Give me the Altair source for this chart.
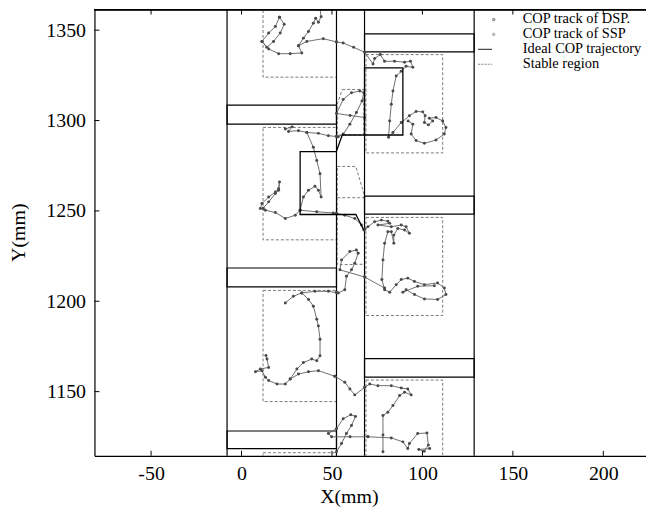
import altair as alt
import pandas as pd

W, H = 555, 449
FONT = "Liberation Serif"

X_DOMAIN = [-81.3, 223.6]
Y_DOMAIN = [1114.5, 1361.4]
X_TICKS = [-50, 0, 50, 100, 150, 200]
Y_TICKS = [1150, 1200, 1250, 1300, 1350]

# foot outlines
FOOT_EDGES_X = [-8.0, 52.5, 68.0, 128.6]
LEFT_FOOT_X = (-8.0, 52.5)
RIGHT_FOOT_X = (68.0, 128.6)
LEFT_BARS_Y = [(1298.0, 1308.5), (1208.0, 1218.4), (1118.5, 1128.2)]
RIGHT_BARS_Y = [(1338.0, 1348.0), (1248.2, 1258.2), (1158.0, 1168.3)]

# stable regions (SSP rectangles)
LEFT_STABLE_X = (11.9, 52.5)
LEFT_STABLE_Y = [(1324.0, 1386.0), (1234.0, 1296.2), (1144.5, 1206.0), (1054.0, 1116.2)]
RIGHT_STABLE_X = (68.8, 111.2)
RIGHT_STABLE_Y = [(1282.1, 1336.5), (1192.1, 1246.4), (1102.0, 1156.4)]

# stable regions (DSP polygons)
DSP_REGIONS = [
    [(55.7, 1317.2), (67.6, 1317.2), (67.6, 1292.0), (52.9, 1292.0), (52.9, 1309.0), (55.7, 1317.2)],
    [(52.9, 1274.6), (63.2, 1274.6), (67.6, 1259.5), (67.6, 1257.3), (52.9, 1257.3), (52.9, 1274.6)],
    [(52.9, 1257.3), (52.9, 1220.2), (67.6, 1220.5)],
]

# ideal COP trajectory
IDEAL = [(68.0, 1292.0), (68.0, 1329.1), (89.2, 1329.1), (89.2, 1292.0), (55.7, 1292.0),
         (52.4, 1282.8), (32.4, 1282.8), (32.4, 1248.0), (63.2, 1248.0), (67.6, 1239.4)]

# COP track segments (SSP)
SSP_SEGMENTS = [
    [(21.0, 1357.2), (23.6, 1353.3), (21.4, 1348.4), (17.7, 1343.8), (14.0, 1340.5), (11.3, 1343.8),
     (15.0, 1348.4), (18.7, 1352.0), (21.0, 1357.2)],
    [(11.3, 1343.8), (15.0, 1339.6), (20.5, 1337.0), (26.9, 1337.0), (33.3, 1337.4), (31.5, 1341.4),
     (34.2, 1345.6), (37.0, 1349.3), (39.7, 1353.9), (41.0, 1356.6), (42.5, 1354.4), (44.0, 1357.5),
     (43.4, 1361.7)],
    [(31.5, 1341.4), (36.1, 1343.8), (45.2, 1345.3), (52.5, 1343.5)],
    [(68.1, 1337.8), (72.7, 1331.3), (73.6, 1334.3), (76.7, 1336.5), (79.1, 1332.8), (84.6, 1332.8),
     (90.1, 1332.3), (93.4, 1332.8), (94.7, 1329.5), (91.0, 1330.0), (88.3, 1327.3), (85.5, 1324.6),
     (83.7, 1316.3), (82.8, 1309.0), (81.9, 1299.8), (81.3, 1290.7), (83.7, 1293.4), (88.3, 1298.9),
     (92.8, 1302.6), (96.5, 1305.0), (100.2, 1304.8), (101.5, 1302.6), (101.1, 1298.9), (103.3, 1297.6),
     (105.7, 1299.8), (103.8, 1301.3), (107.5, 1301.7), (111.2, 1299.8), (113.0, 1296.2), (112.1, 1292.5),
     (107.5, 1289.2), (101.1, 1287.4), (96.5, 1288.9), (93.8, 1292.5), (94.7, 1298.0), (92.1, 1299.8)],
    [(24.2, 1295.3), (28.0, 1296.5), (26.0, 1294.0), (31.5, 1294.4), (36.1, 1293.4), (42.5, 1292.9),
     (48.0, 1291.6), (52.5, 1291.2)],
    [(36.1, 1293.4), (39.7, 1285.2), (41.6, 1277.9), (43.4, 1270.5), (44.0, 1257.7), (42.5, 1261.4),
     (40.6, 1263.6), (37.0, 1261.4), (34.2, 1257.7), (32.4, 1250.4), (29.7, 1247.6), (24.2, 1245.8),
     (18.7, 1249.1), (13.2, 1250.4), (10.4, 1251.3), (11.3, 1254.1), (15.0, 1257.7), (18.7, 1260.5),
     (20.5, 1262.3), (21.0, 1266.0), (20.5, 1261.4), (18.7, 1259.6), (15.0, 1255.0), (12.0, 1251.5)],
    [(32.4, 1250.4), (41.6, 1249.5), (50.7, 1248.9), (52.5, 1248.6)],
    [(68.1, 1239.8), (69.9, 1241.2), (73.6, 1244.0), (77.3, 1244.9), (80.9, 1244.3), (81.9, 1243.1),
     (75.4, 1242.2), (82.8, 1241.2), (88.3, 1242.2), (91.0, 1241.2), (92.8, 1237.6), (90.1, 1239.4),
     (86.4, 1240.3), (84.2, 1236.6), (84.2, 1232.1), (82.8, 1238.5), (80.9, 1238.5), (79.1, 1232.1),
     (78.2, 1222.9), (77.6, 1212.0), (79.1, 1206.4), (81.9, 1205.0), (85.5, 1209.2), (88.3, 1212.0),
     (91.9, 1212.8), (95.6, 1211.0), (101.1, 1209.2), (108.4, 1210.1), (112.1, 1207.3), (113.0, 1203.7),
     (108.4, 1201.0), (101.1, 1201.3), (95.6, 1203.7), (91.0, 1206.4), (89.2, 1205.0), (97.4, 1208.3),
     (106.6, 1208.6)],
    [(79.1, 1207.3), (68.1, 1213.4)],
    [(52.5, 1204.8), (48.0, 1205.5), (40.6, 1205.5), (33.3, 1204.6), (28.7, 1202.8), (24.2, 1199.1)],
    [(33.3, 1204.6), (37.0, 1201.0), (39.7, 1197.3), (41.6, 1190.0), (42.5, 1186.3), (43.4, 1179.0),
     (43.4, 1169.8), (41.6, 1167.1), (38.8, 1168.0), (34.2, 1166.1), (30.6, 1162.5), (26.9, 1157.0),
     (24.2, 1154.2), (19.6, 1154.2), (15.0, 1156.1), (13.2, 1157.9), (11.3, 1161.6), (7.7, 1161.0),
     (10.4, 1162.5), (15.0, 1163.4), (14.1, 1168.0), (13.5, 1170.0)],
    [(26.9, 1157.0), (31.5, 1159.7), (37.0, 1161.0), (42.5, 1161.6), (51.6, 1158.5)],
    [(68.1, 1152.4), (70.9, 1154.2), (75.4, 1153.3), (82.8, 1153.3), (88.3, 1152.0), (91.9, 1151.5),
     (93.8, 1148.2), (90.1, 1149.7), (87.4, 1147.8), (83.7, 1142.3), (80.9, 1138.6), (78.2, 1136.8),
     (78.2, 1126.0), (78.2, 1116.7)],
    [(69.9, 1125.0), (82.8, 1124.4), (89.2, 1122.2), (91.9, 1118.5), (92.8, 1121.3), (97.4, 1126.8),
     (102.5, 1127.1), (103.3, 1120.4), (101.0, 1117.0), (98.0, 1118.0), (104.0, 1118.5)],
]

# COP track segments (DSP)
DSP_SEGMENTS = [
    [(52.5, 1343.5), (56.2, 1342.9), (62.0, 1340.5), (68.1, 1337.8)],
    [(52.5, 1291.2), (53.5, 1291.0), (56.2, 1292.5), (59.9, 1298.0), (63.5, 1304.4), (66.6, 1310.8),
     (67.6, 1315.4), (65.4, 1316.3), (60.8, 1315.4), (56.2, 1311.7), (52.5, 1303.9), (60.0, 1302.8),
     (68.1, 1301.7)],
    [(52.5, 1248.6), (57.1, 1247.6), (62.6, 1245.8), (66.3, 1242.2), (67.6, 1239.4), (68.1, 1239.8)],
    [(68.1, 1213.4), (54.4, 1217.4), (55.3, 1222.9), (59.9, 1227.5), (63.5, 1228.4), (64.5, 1226.6),
     (62.6, 1221.1), (60.8, 1217.4), (58.0, 1213.8), (57.1, 1206.4), (53.5, 1204.6), (52.5, 1204.8)],
    [(51.6, 1158.5), (57.1, 1155.2), (59.9, 1151.5), (62.6, 1148.2), (68.1, 1152.4)],
    [(52.5, 1116.7), (55.3, 1121.3), (58.0, 1126.8), (60.8, 1131.3), (63.0, 1136.3), (60.4, 1137.2),
     (56.2, 1135.0), (52.5, 1129.5), (48.0, 1126.8), (49.8, 1125.0), (60.0, 1125.0), (69.9, 1125.0)],
]

LEGEND_LABELS = ["COP track of DSP.", "COP track of SSP", "Ideal COP trajectory", "Stable region"]

# ---------------- build tables ----------------
def seg_table(segments, kind):
    rows = []
    for s, seg in enumerate(segments):
        for i, (x, y) in enumerate(seg):
            rows.append({"seg": f"{kind}{s}", "i": i, "x": x, "y": y, "kind": kind})
    return pd.DataFrame(rows)

track_df = pd.concat([seg_table(SSP_SEGMENTS, "SSP"), seg_table(DSP_SEGMENTS, "DSP")], ignore_index=True)
dsp_poly_df = seg_table(DSP_REGIONS, "R")
ideal_df = pd.DataFrame({"i": range(len(IDEAL)), "x": [p[0] for p in IDEAL], "y": [p[1] for p in IDEAL]})

bars_df = pd.DataFrame(
    [{"x1": LEFT_FOOT_X[0], "x2": LEFT_FOOT_X[1], "y1": a, "y2": b} for a, b in LEFT_BARS_Y]
    + [{"x1": RIGHT_FOOT_X[0], "x2": RIGHT_FOOT_X[1], "y1": a, "y2": b} for a, b in RIGHT_BARS_Y]
)
stable_df = pd.DataFrame(
    [{"x1": LEFT_STABLE_X[0], "x2": LEFT_STABLE_X[1], "y1": a, "y2": b} for a, b in LEFT_STABLE_Y]
    + [{"x1": RIGHT_STABLE_X[0], "x2": RIGHT_STABLE_X[1], "y1": a, "y2": b} for a, b in RIGHT_STABLE_Y]
)
edges_df = pd.DataFrame({"x": FOOT_EDGES_X})
xticks_df = pd.DataFrame({"v": X_TICKS})
yticks_df = pd.DataFrame({"v": Y_TICKS})

xs = alt.Scale(domain=X_DOMAIN, nice=False, zero=False)
ys = alt.Scale(domain=Y_DOMAIN, nice=False, zero=False)

x_axis = alt.Axis(values=X_TICKS, tickSize=0, grid=False, labelFont=FONT, labelFontSize=20,
                  labelColor="black", labelPadding=8, labelExpr="'' + datum.value",
                  domainColor="black", domainWidth=1.2, title="X(mm)", titleFont=FONT,
                  titleFontSize=20, titleFontWeight="normal", titleColor="black",
                  titleX=256, titleY=47, titleBaseline="alphabetic", titleAlign="center")
y_axis = alt.Axis(values=Y_TICKS, tickSize=0, grid=False, labelFont=FONT, labelFontSize=20,
                  labelColor="black", labelPadding=9, labelExpr="'' + datum.value",
                  domainColor="black", domainWidth=1.2,
                  title="Y(mm)", titleFont=FONT, titleFontSize=20, titleFontWeight="normal",
                  titleColor="black", titleX=-76, titleY=224, titleAngle=270,
                  titleAlign="center", titleBaseline="middle")

edges = alt.Chart(edges_df).mark_rule(color="black", strokeWidth=1.2).encode(
    x=alt.X("x:Q", scale=xs, axis=x_axis)
)

bars = alt.Chart(bars_df).mark_rect(fillOpacity=0, stroke="black", strokeWidth=1.2, clip=True).encode(
    x=alt.X("x1:Q", scale=xs), x2="x2:Q",
    y=alt.Y("y1:Q", scale=ys, axis=y_axis), y2="y2:Q",
)

stable = alt.Chart(stable_df).mark_rect(fillOpacity=0, stroke="#7a7a7a", strokeWidth=1,
                                        strokeDash=[3, 2], clip=True).encode(
    x=alt.X("x1:Q", scale=xs), x2="x2:Q",
    y=alt.Y("y1:Q", scale=ys), y2="y2:Q",
)

dsp_poly = alt.Chart(dsp_poly_df).mark_line(color="#7a7a7a", strokeWidth=1, strokeDash=[3, 2],
                                            clip=True).encode(
    x=alt.X("x:Q", scale=xs), y=alt.Y("y:Q", scale=ys), detail="seg:N", order="i:Q"
)

track_lines = alt.Chart(track_df).mark_line(color="#5e5e5e", strokeWidth=0.9, clip=True).encode(
    x=alt.X("x:Q", scale=xs), y=alt.Y("y:Q", scale=ys), detail="seg:N", order="i:Q"
)
track_pts = alt.Chart(track_df).mark_point(filled=True, size=9, color="#4a4a4a", opacity=1,
                                           clip=True).encode(
    x=alt.X("x:Q", scale=xs), y=alt.Y("y:Q", scale=ys)
)

ideal = alt.Chart(ideal_df).mark_line(color="black", strokeWidth=1.3, clip=True).encode(
    x=alt.X("x:Q", scale=xs), y=alt.Y("y:Q", scale=ys), order="i:Q"
)

# inward ticks and top frame line
tick_b = alt.Chart(xticks_df).mark_rule(color="black", strokeWidth=1).encode(
    x=alt.X("v:Q", scale=xs), y=alt.value(H), y2=alt.value(H - 5))
tick_t = alt.Chart(xticks_df).mark_rule(color="black", strokeWidth=1).encode(
    x=alt.X("v:Q", scale=xs), y=alt.value(0), y2=alt.value(5))
tick_l = alt.Chart(yticks_df).mark_rule(color="black", strokeWidth=1).encode(
    y=alt.Y("v:Q", scale=ys), x=alt.value(0), x2=alt.value(5))
top_line = alt.Chart(xticks_df).mark_rule(color="black", strokeWidth=1.2).encode(
    x=alt.value(0), x2=alt.value(W), y=alt.value(0))

# legend-only layer (points lie outside the clipped view)
DOT = "M1.1,0A0.15,0.15 0 1,0 1.4,0A0.15,0.15 0 1,0 1.1,0Z"
LINE = "M-1,0L1,0"
legend_df = pd.DataFrame({"series": LEGEND_LABELS, "x": [-500.0] * 4, "y": [0.0] * 4})
leg = alt.Legend(title=None, orient="none", legendX=385, legendY=2, labelFont=FONT,
                 labelFontSize=14.5, labelColor="black", labelOffset=30, rowPadding=0,
                 symbolSize=196, symbolStrokeWidth=1.2)
legend_layer = alt.Chart(legend_df).mark_point(filled=False, clip=True, strokeWidth=1.2).encode(
    x=alt.X("x:Q", scale=xs), y=alt.Y("y:Q", scale=ys),
    color=alt.Color("series:N", scale=alt.Scale(domain=LEGEND_LABELS,
                    range=["#555555", "#888888", "black", "#555555"]), legend=leg),
    shape=alt.Shape("series:N", scale=alt.Scale(domain=LEGEND_LABELS,
                    range=[DOT, DOT, LINE, LINE]), legend=leg),
    strokeDash=alt.StrokeDash("series:N", scale=alt.Scale(domain=LEGEND_LABELS,
                              range=[[1, 0], [1, 0], [1, 0], [2, 1.2]]), legend=leg),
)

chart = alt.layer(
    stable, dsp_poly, edges, bars, track_lines, track_pts, ideal,
    tick_b, tick_t, tick_l, top_line, legend_layer
).properties(
    width=W, height=H,
    autosize=alt.AutoSizeParams(type="none"),
    padding={"left": 87, "top": 0, "right": 0, "bottom": 58},
).configure_view(strokeWidth=0)

chart.save("out.html", embed_options={"renderer": "svg", "actions": False})
